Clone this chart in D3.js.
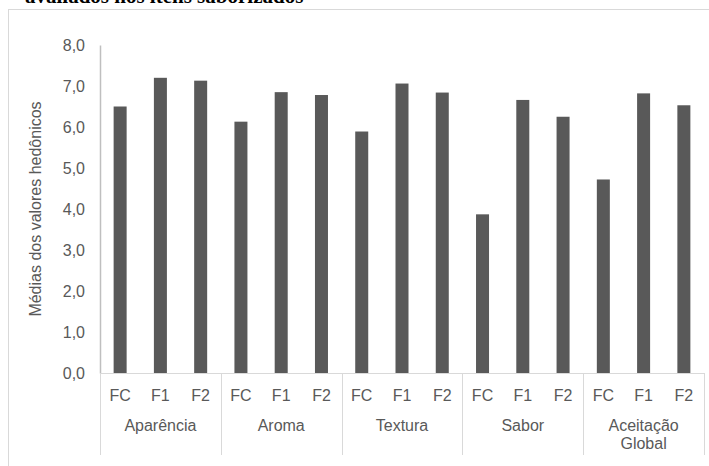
<!DOCTYPE html>
<html>
<head>
<meta charset="utf-8">
<script src="https://cdn.jsdelivr.net/npm/d3@7"></script>
<style>
  html, body { margin: 0; padding: 0; background: #ffffff; }
  svg { display: block; }
  text { font-family: "Liberation Sans", Arial, sans-serif; fill: #595959; }
</style>
</head>
<body>
<svg id="chart" width="709" height="466"></svg>
<script>
// Sensory attributes (outer groups) and formulations (inner bars)
const attributes = ["Aparência", "Aroma", "Textura", "Sabor", "Aceitação Global"];
const formulations = ["FC", "F1", "F2"];

// Mean hedonic scores, one array per attribute, in the order FC, F1, F2
const aparencia = [6.50, 7.20, 7.13];
const aroma = [6.13, 6.85, 6.78];
const textura = [5.89, 7.06, 6.84];
const sabor = [3.87, 6.66, 6.25];
const aceitacaoGlobal = [4.72, 6.82, 6.53];

const yTicks = [0, 1, 2, 3, 4, 5, 6, 7, 8];
const yLabel = "Médias dos valores hedônicos";
const titleTail = "avaliados nos itens saborizados";

const seriesByAttribute = [aparencia, aroma, textura, sabor, aceitacaoGlobal];
const rows = [];
attributes.forEach((a, i) => {
  formulations.forEach((f, j) => rows.push({ attribute: a, formulation: f, value: seriesByAttribute[i][j] }));
});

const svg = d3.select("#chart");

// Caption text above the chart frame (only its lower part sits inside the page)
svg.append("text")
  .attr("x", 25).attr("y", 3)
  .style("font-family", "'Liberation Serif', 'Times New Roman', serif")
  .style("font-weight", "bold")
  .style("font-size", "21px")
  .style("fill", "#000")
  .text(titleTail);

// Chart frame
svg.append("rect")
  .attr("x", 8.5).attr("y", 9.5)
  .attr("width", 720).attr("height", 480)
  .attr("fill", "none")
  .attr("stroke", "#d9d9d9");

const plotLeft = 100, plotRight = 704, plotTop = 45, plotBottom = 373;

const x0 = d3.scaleBand().domain(attributes).range([plotLeft, plotRight]).padding(0);
const x1 = d3.scaleBand().domain(formulations).range([0, x0.bandwidth()])
  .paddingInner(0.677).paddingOuter(0.3385);
const y = d3.scaleLinear().domain([0, 8]).range([plotBottom, plotTop]);

const fmt = v => d3.format(".1f")(v).replace(".", ",");

// Bars
svg.append("g")
  .selectAll("rect")
  .data(rows)
  .join("rect")
  .attr("x", d => x0(d.attribute) + x1(d.formulation))
  .attr("y", d => y(d.value))
  .attr("width", x1.bandwidth())
  .attr("height", d => y(0) - y(d.value))
  .attr("fill", "#595959");

// Value axis
const yAxis = svg.append("g")
  .attr("transform", `translate(${plotLeft},0)`)
  .call(d3.axisLeft(y).tickValues(yTicks).tickFormat(fmt).tickSize(0).tickPadding(15));
yAxis.select(".domain").attr("stroke", "#bfbfbf").attr("stroke-width", 1.5);
yAxis.selectAll("text")
  .style("font-family", "'Liberation Sans', Arial, sans-serif")
  .style("font-size", "16px")
  .attr("fill", "#595959");

// Category axis baseline
svg.append("line")
  .attr("x1", plotLeft).attr("x2", plotRight)
  .attr("y1", y(0) + 0.5).attr("y2", y(0) + 0.5)
  .attr("stroke", "#d9d9d9").attr("stroke-width", 1);

// Group separators
const boundaries = attributes.map(a => x0(a)).concat([x0(attributes[attributes.length - 1]) + x0.bandwidth()]);
svg.append("g")
  .selectAll("line")
  .data(boundaries)
  .join("line")
  .attr("x1", d => Math.round(d) + 0.5).attr("x2", d => Math.round(d) + 0.5)
  .attr("y1", y(0)).attr("y2", 455)
  .attr("stroke", "#d9d9d9").attr("stroke-width", 1);

// Formulation labels
svg.append("g")
  .selectAll("text")
  .data(rows)
  .join("text")
  .attr("x", d => x0(d.attribute) + x1(d.formulation) + x1.bandwidth() / 2)
  .attr("y", 395)
  .attr("dy", "0.35em")
  .attr("text-anchor", "middle")
  .style("font-size", "16px")
  .text(d => d.formulation);

// Attribute labels (wrapped onto two lines when needed)
const attrLabels = svg.append("g")
  .selectAll("text")
  .data(attributes)
  .join("text")
  .attr("x", d => x0(d) + x0.bandwidth() / 2)
  .attr("y", 425)
  .attr("text-anchor", "middle")
  .style("font-size", "16px");
attrLabels.each(function (d) {
  const words = d.split(" ");
  const t = d3.select(this);
  words.forEach((w, i) => {
    t.append("tspan")
      .attr("x", x0(d) + x0.bandwidth() / 2)
      .attr("y", 425 + i * 18)
      .attr("dy", "0.35em")
      .text(w);
  });
});

// Value axis title
svg.append("text")
  .attr("transform", `translate(35,${(plotTop + plotBottom) / 2}) rotate(-90)`)
  .attr("text-anchor", "middle")
  .attr("dy", "0.35em")
  .style("font-size", "16px")
  .text(yLabel);
</script>
</body>
</html>
